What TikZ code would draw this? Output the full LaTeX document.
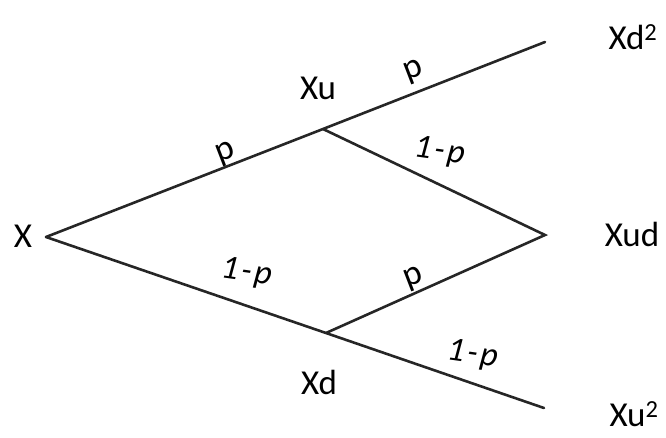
\documentclass[tikz,border=0pt]{standalone}
\usepackage{fontspec}
\setmainfont{Carlito}
\newcommand{\onemp}{1\kern3pt-\kern3pt p}
\begin{document}
\begin{tikzpicture}[x=1pt,y=-1pt,
  lbl/.style={font=\fontsize{35}{40}\selectfont, inner sep=0pt},
  plbl/.style={font=\fontsize{35}{40}\selectfont, inner sep=0pt, rotate=21},
  qlbl/.style={font=\fontsize{34}{40}\selectfont\itshape, inner sep=0pt, rotate=-8},
  branch/.style={line width=2.6pt, draw=black!85, line cap=round}]
\useasboundingbox (0,0) rectangle (666,437);
\coordinate (x) at (46,237);
\coordinate (u) at (323,129);
\coordinate (d) at (326,333);
\coordinate (uu) at (545,42);
\coordinate (ud) at (545,235);
\coordinate (dd) at (544,408);
\draw[branch] (x) -- (u) -- (uu);
\draw[branch] (u) -- (ud) -- (d);
\draw[branch] (x) -- (d) -- (dd);
\node[lbl] (lx) at (23,236) {X};
\node[lbl] (lu) at (318,88) {Xu};
\node[lbl] (ld) at (319,382) {Xd};
\node[lbl] (luu) at (633,37) {Xd\textsuperscript{2}};
\node[lbl] (lud) at (632,234) {Xud};
\node[lbl] (ldd) at (634,414) {Xu\textsuperscript{2}};
\node[plbl] (p1) at (226,154) {p};
\node[plbl] (p2) at (414,72) {p};
\node[plbl] (p3) at (414,279) {p};
\node[qlbl] (q1) at (440,152) {\onemp};
\node[qlbl] (q2) at (247,273) {\onemp};
\node[qlbl] (q3) at (473,355) {\onemp};
\end{tikzpicture}
\end{document}
